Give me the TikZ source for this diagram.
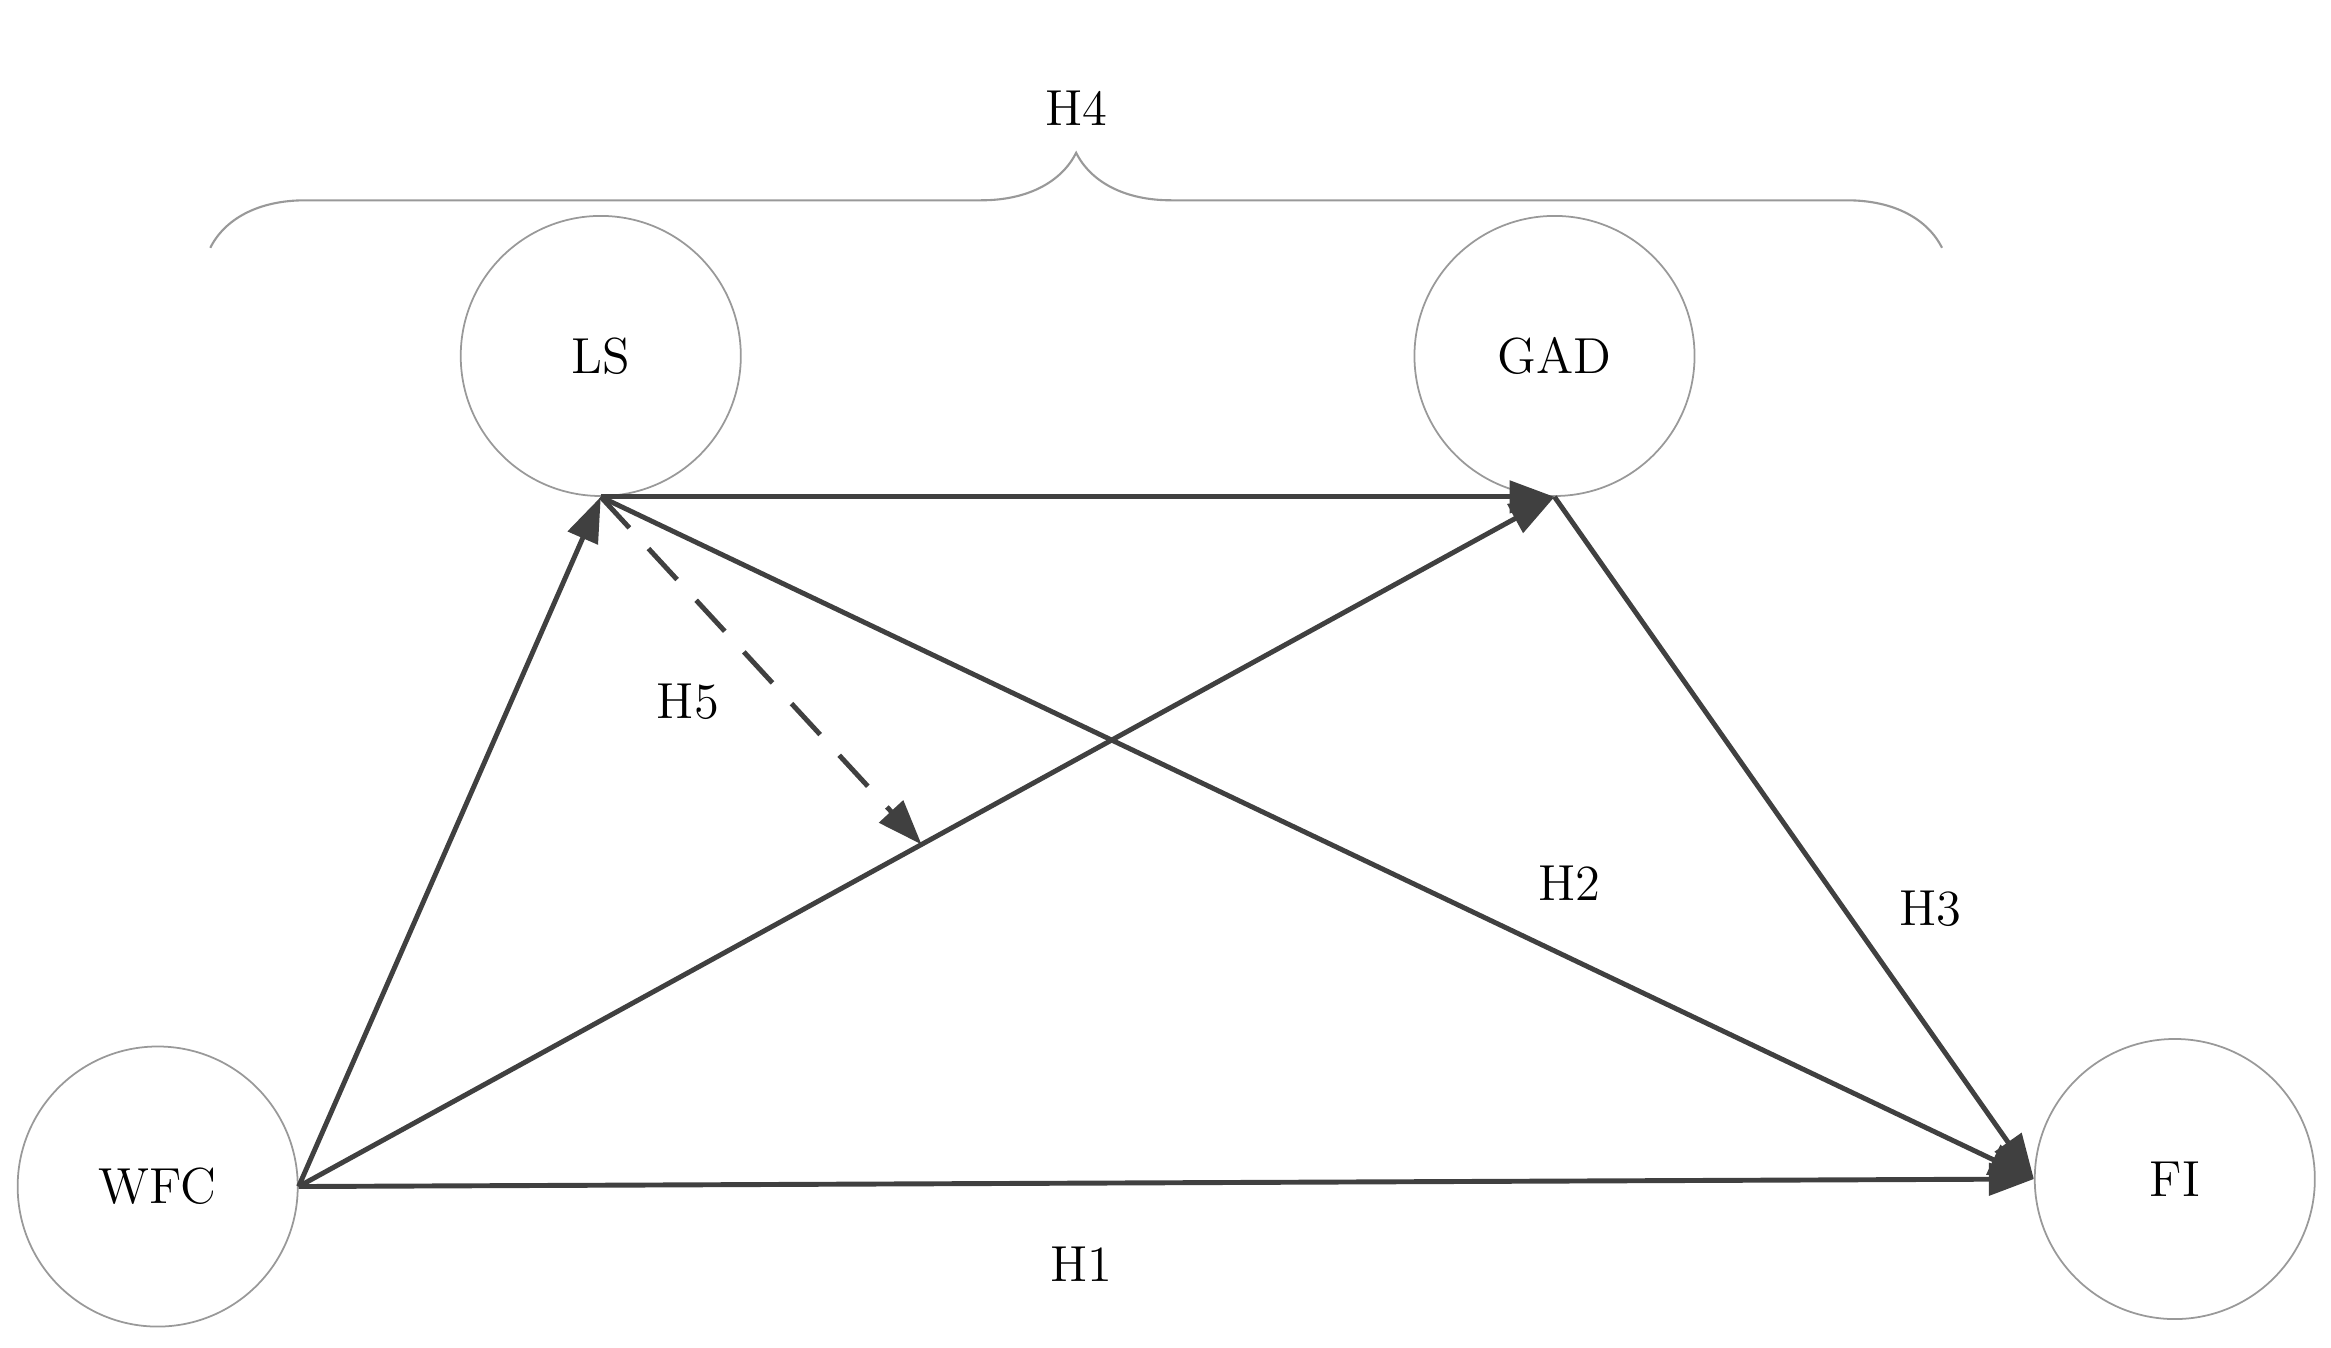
\documentclass[tikz,border=0pt]{standalone}
\usepackage{tikz}
\usetikzlibrary{arrows.meta, calc, decorations.pathreplacing}
\tikzstyle{var}=[circle, draw=gray!80, line width=0.5pt, minimum size=2.8cm, font=\Large]
\tikzstyle{path}=[draw=black!75, line width=1.4pt, -{Triangle[length=0.45cm, width=0.32cm]}]
\tikzstyle{hyp}=[font=\Large]

\begin{document}
\begin{tikzpicture}[x=0.01502cm, y=0.01502cm]
\useasboundingbox (0,0) rectangle (1552,-897.5);

% Variables
\node[var] (ls)  at (400,-237)  {LS};
\node[var] (gad) at (1035,-237) {GAD};
\node[var] (wfc) at (105,-790)  {WFC};
\node[var] (fi)  at (1448,-785) {FI};

% Paths
\draw[path] (wfc.east) -- (ls.south);
\draw[path] (wfc.east) -- (gad.south);
\draw[path] (wfc.east) -- (fi.west);
\draw[path] (ls.south) -- (gad.south);
\draw[path] (ls.south) -- (fi.west);
\draw[path] (gad.south) -- (fi.west);

% Moderation
\coordinate (mod) at ($(wfc.east)!0.496!(gad.south)$);
\draw[path, dashed, dash pattern=on 12pt off 8pt] (ls.south) -- (mod);

% Brace
\draw[gray!80, line width=0.6pt, decoration={brace, amplitude=0.95cm}, decorate]
    (140,-165) -- (1293,-165) node[midway, above=1.1cm, black, font=\Large] (h4) {H4};

% Labels
\node[hyp] (h5) at (458,-467)  {H5};
\node[hyp] (h2) at (1045,-588) {H2};
\node[hyp] (h3) at (1285,-605) {H3};
\node[hyp] (h1) at (720,-842)  {H1};

\end{tikzpicture}
\end{document}
